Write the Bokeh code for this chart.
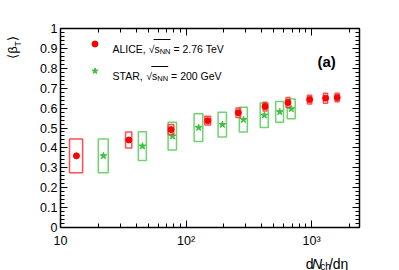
import math
import numpy as np
from bokeh.plotting import figure
from bokeh.layouts import row, column
from bokeh.models import (LogAxis, LinearAxis, FixedTicker, CustomJSTickFormatter,
                          Label, Legend, LegendItem, BoxAnnotation, Range1d, ColumnDataSource)
from bokeh.embed import file_html
from bokeh.resources import INLINE

# ---------------- data ----------------
alice_dndeta = [1601, 1294, 966, 649, 426, 261, 149, 76, 35, 13.4]
alice_dndeta_err = [60, 49, 37, 23, 15, 11, 8, 4, 2, 1.6]
alice_beta = [0.653, 0.650, 0.643, 0.628, 0.608, 0.577, 0.537, 0.492, 0.440, 0.360]
alice_beta_sys = [0.021, 0.025, 0.022, 0.025, 0.022, 0.024, 0.022, 0.025, 0.040, 0.085]

star_dndeta = [691, 558, 421, 287, 195, 126, 78, 45, 22]
star_dndeta_err = [50, 40, 31, 21, 15, 10, 6, 3.3, 2]
star_beta = [0.596, 0.581, 0.564, 0.542, 0.517, 0.502, 0.459, 0.409, 0.360]
star_beta_sys = [0.050, 0.052, 0.062, 0.062, 0.062, 0.070, 0.070, 0.072, 0.085]

x_major_ticks = [10, 100, 1000]
x_minor_mult = [2, 3, 4, 5, 6, 7, 8, 9]
y_ticks = [0, 0.1, 0.2, 0.3, 0.4, 0.5, 0.6, 0.7, 0.8, 0.9, 1.0]

XMIN, XMAX = 10, 2410
YMIN, YMAX = 0, 1

# ---------------- layout (picture px) ----------------
FL, FR, FT, FB = 60, 359, 28, 229   # main frame edges in the picture
TOTAL_W, TOTAL_H = 391, 270
YLAB_W = 24                          # strip on the left holding the y title
MAIN_H = 250                         # main figure height; x title strip below
MAIN_W = TOTAL_W - YLAB_W
XLAB_H = TOTAL_H - MAIN_H
XL_SHIFT = 15                        # measured offset of the title strips
YL_SHIFT = 14


def X(px):
    return 10 ** (math.log10(XMIN) + (px - FL) / (FR - FL) * (math.log10(XMAX) - math.log10(XMIN)))


def Y(py):
    return YMIN + (FB - py) / (FB - FT) * (YMAX - YMIN)


W = {' ': 278, ',': 278, '.': 278, '/': 278, '=': 584, 'A': 667, 'C': 722, 'E': 667,
     'G': 778, 'I': 278, 'L': 556, 'N': 722, 'R': 722, 'S': 667, 'T': 611, 'V': 667,
     'c': 500, 'd': 556, 'e': 556, 'h': 556, 's': 500, '(': 333, ')': 333, 'a': 556,
     '\u221a': 549, '\u03b7': 556, '\u03b2': 573, '\u27e8': 390, '\u27e9': 390}


def tw(s, size):
    return sum(W.get(c, 556) for c in s) * size / 1000.0


FONT = "Liberation Sans"

p = figure(x_axis_type="log", width=MAIN_W, height=MAIN_H,
           min_border_left=FL - YLAB_W, min_border_right=TOTAL_W - FR,
           min_border_top=FT, min_border_bottom=MAIN_H - FB,
           x_range=Range1d(XMIN, XMAX), y_range=Range1d(YMIN, YMAX),
           output_backend="svg", toolbar_location=None)
p.xgrid.visible = False
p.ygrid.visible = False
p.outline_line_color = None
p.background_fill_color = "white"
p.border_fill_color = "white"

minor = [m * t for t in x_major_ticks for m in x_minor_mult if m * t <= XMAX]
xticker = FixedTicker(ticks=x_major_ticks, minor_ticks=minor)
yticker = FixedTicker(ticks=y_ticks, minor_ticks=list(np.round(np.arange(0, 1.0001, 0.02), 3)))

xfmt = CustomJSTickFormatter(code="""
const e = Math.round(Math.log10(tick));
if (e == 1) { return "10"; }
return "10" + (e == 2 ? "\\u00b2" : "\\u00b3");
""")
yfmt = CustomJSTickFormatter(code="return (Math.round(tick*10)/10).toString();")
blank = CustomJSTickFormatter(code="return '';")


def style_axis(ax, label=True, major=7, minor_len=4):
    ax.axis_line_width = 1.5
    ax.axis_line_color = "black"
    ax.major_tick_in = major
    ax.major_tick_out = 0
    ax.minor_tick_in = minor_len
    ax.minor_tick_out = 0
    ax.major_tick_line_color = "black"
    ax.minor_tick_line_color = "black"
    ax.major_tick_line_width = 1
    ax.minor_tick_line_width = 1
    if label:
        ax.major_label_text_font = FONT
        ax.major_label_text_font_size = "12.5px"
        ax.major_label_text_color = "black"
    else:
        ax.major_label_text_font_size = "1px"
        ax.major_label_standoff = 0


xa = p.xaxis[0]
xa.ticker = xticker
xa.formatter = xfmt
style_axis(xa)
xa.major_label_standoff = 6

ya = p.yaxis[0]
ya.ticker = yticker
ya.formatter = yfmt
style_axis(ya)
ya.major_label_standoff = 3

top = LogAxis(ticker=xticker, formatter=blank)
style_axis(top, label=False)
p.add_layout(top, "above")
right = LinearAxis(ticker=yticker, formatter=blank)
style_axis(right, label=False)
p.add_layout(right, "right")

# ---------------- data marks ----------------
s_src = ColumnDataSource(dict(
    x=star_dndeta, y=star_beta,
    l=np.array(star_dndeta) - np.array(star_dndeta_err),
    r=np.array(star_dndeta) + np.array(star_dndeta_err),
    b=np.array(star_beta) - np.array(star_beta_sys),
    t=np.array(star_beta) + np.array(star_beta_sys)))
a_src = ColumnDataSource(dict(
    x=alice_dndeta, y=alice_beta,
    l=np.array(alice_dndeta) - np.array(alice_dndeta_err),
    r=np.array(alice_dndeta) + np.array(alice_dndeta_err),
    b=np.array(alice_beta) - np.array(alice_beta_sys),
    t=np.array(alice_beta) + np.array(alice_beta_sys)))

GREEN_BOX = "#6fd36f"
GREEN = "#3fbf3f"
RED = "#ff0000"

p.quad(left="l", right="r", bottom="b", top="t", source=s_src,
       fill_color=None, line_color=GREEN_BOX, line_width=1.5)
r_star = p.scatter("x", "y", source=s_src, marker="star", size=7,
                   fill_color=GREEN, line_color=GREEN)
p.quad(left="l", right="r", bottom="b", top="t", source=a_src,
       fill_color=None, line_color="#ff3030", line_width=1.5, line_alpha=0.85)
r_alice = p.scatter("x", "y", source=a_src, marker="circle", size=6,
                    fill_color=RED, line_color=RED)

# ---------------- legend (markers) ----------------
leg = Legend(items=[LegendItem(label=" ", renderers=[r_alice]),
                    LegendItem(label=" ", renderers=[r_star])],
             location=(26.8, 149.2), glyph_width=15, glyph_height=15,
             label_height=15, spacing=12, padding=0, margin=0,
             border_line_color=None, background_fill_alpha=0,
             label_text_font_size="1px", label_width=1)
p.add_layout(leg)


def add_text(fig, x, y, text, size, style="normal", angle=0.0):
    fig.add_layout(Label(x=x, y=y, text=text, text_font=FONT,
                         text_font_size="%.1fpx" % size, text_font_style=style,
                         text_color="black", text_align="left",
                         text_baseline="alphabetic", angle=angle))


def main_text(px, py, text, size, style="normal"):
    add_text(p, X(px), Y(py), text, size, style)


def sqrt_line(x0, energy, yb, F=10.5, Fs=7.5):
    x = x0
    main_text(x, yb, energy[0], F)
    x += tw(energy[0], F) + tw(" ", F)
    main_text(x, yb, "\u221a", F)
    xs = x + tw("\u221a", F) - 0.8
    x += tw("\u221a", F)
    main_text(x, yb, "s", F)
    x += tw("s", F)
    main_text(x, yb + 2.6, "NN", Fs)
    x += tw("NN", Fs)
    p.add_layout(BoxAnnotation(left=X(xs), right=X(x), top=Y(yb - 9.8), bottom=Y(yb - 9.0),
                               fill_color="black", fill_alpha=1, line_color=None))
    x += tw(" ", F)
    main_text(x, yb, energy[1], F)


sqrt_line(112, ("ALICE,", "= 2.76 TeV"), 48.5)
sqrt_line(112, ("STAR,", "= 200 GeV"), 75.8)

# panel tag
main_text(317, 61, "(a)", 15, style="bold")


# ---------------- title strips ----------------
def strip(w, h):
    f = figure(width=w, height=h, x_range=Range1d(0, w), y_range=Range1d(0, h),
               x_axis_location=None, y_axis_location=None, min_border=0,
               output_backend="svg", toolbar_location=None)
    f.grid.visible = False
    f.outline_line_color = None
    f.background_fill_color = "white"
    f.border_fill_color = "white"
    return f


# x title: dN_ch/d eta
xl = strip(MAIN_W, XLAB_H)
xb = 263
x = 310 + XL_SHIFT


def xl_text(px, py, text, size, style="normal"):
    add_text(xl, px - YLAB_W, TOTAL_H - py, text, size, style)


xl_text(x, xb, "d", 14); x += tw("d", 14)
xl_text(x, xb, "N", 14, style="italic"); x += tw("N", 14)
xl_text(x, xb + 3, "ch", 10); x += tw("ch", 10)
xl_text(x, xb, "/d\u03b7", 14)

# y title: <beta_T>, rotated
yl = strip(YLAB_W, TOTAL_H)
yx = 12.5
y = 44 + YL_SHIFT
add_text(yl, yx, TOTAL_H - y, "\u27e8\u03b2", 12.5, angle=math.pi / 2); y -= tw("\u27e8\u03b2", 12.5)
add_text(yl, yx + 5, TOTAL_H - y, "T", 8.5, angle=math.pi / 2); y -= tw("T", 8.5)
add_text(yl, yx, TOTAL_H - y, "\u27e9", 12.5, angle=math.pi / 2)

layout = row(yl, column(p, xl, spacing=0), spacing=0)

open("out.html", "w").write(file_html(layout, INLINE))
